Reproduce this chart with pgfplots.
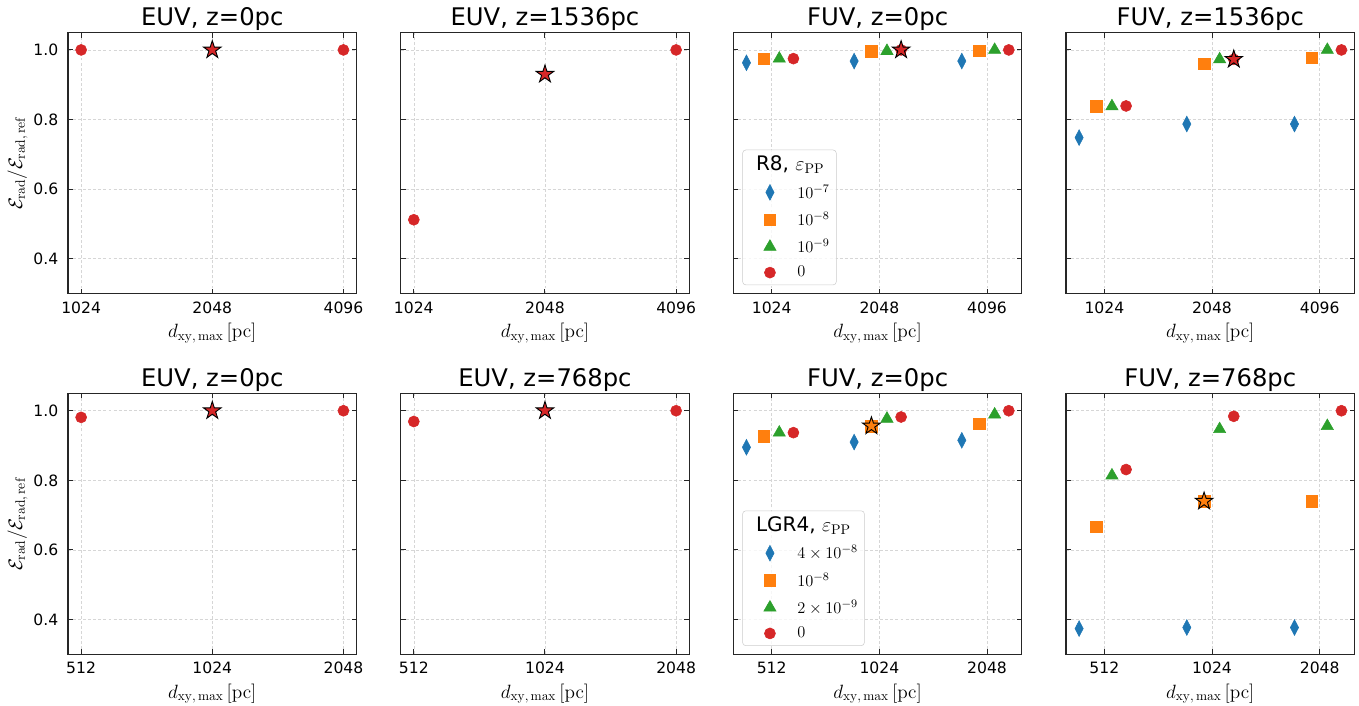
\RequirePackage{fix-cm}
\documentclass[border=0pt]{standalone}
\usepackage[no-math]{fontspec}
\setmainfont{DejaVu Sans}
\usepackage{pgfplots}
\pgfplotsset{compat=1.18}

\definecolor{tabblue}{HTML}{1F77B4}
\definecolor{taborange}{HTML}{FF7F0E}
\definecolor{tabgreen}{HTML}{2CA02C}
\definecolor{tabred}{HTML}{D62728}

\pgfdeclareplotmark{fstar}{%
  \pgfpathmoveto{\pgfpointpolar{90}{\pgfplotmarksize}}%
  \pgfpathlineto{\pgfpointpolar{126}{0.382\pgfplotmarksize}}%
  \pgfpathlineto{\pgfpointpolar{162}{\pgfplotmarksize}}%
  \pgfpathlineto{\pgfpointpolar{198}{0.382\pgfplotmarksize}}%
  \pgfpathlineto{\pgfpointpolar{234}{\pgfplotmarksize}}%
  \pgfpathlineto{\pgfpointpolar{270}{0.382\pgfplotmarksize}}%
  \pgfpathlineto{\pgfpointpolar{306}{\pgfplotmarksize}}%
  \pgfpathlineto{\pgfpointpolar{342}{0.382\pgfplotmarksize}}%
  \pgfpathlineto{\pgfpointpolar{18}{\pgfplotmarksize}}%
  \pgfpathlineto{\pgfpointpolar{54}{0.382\pgfplotmarksize}}%
  \pgfpathclose
  \pgfusepathqfillstroke
}

\pgfplotsset{
  mypanel/.style={
    scale only axis, width=216.4pt, height=195.75pt,
    ymin=0.3, ymax=1.05,
    ytick={0.4,0.6,0.8,1.0},
    yticklabels={},
    minor xtick={}, minor ytick={},
    tick align=inside,
    major tick length=3.75pt,
    tick style={black!85, line width=0.75pt},
    axis line style={black!85, line width=0.9pt},
    grid=major,
    grid style={dash pattern=on 2.2pt off 1.6pt, black!16, line width=0.45pt},
    ticklabel style={font=\fontsize{11.7}{13.5}\selectfont},
    xticklabel style={yshift=-2.5pt},
    yticklabel style={xshift=-3.75pt},
    every axis title/.style={at={(axis description cs:0.5,1.0255)}, anchor=base, font=\fontsize{18.2}{22}\selectfont},
    every axis x label/.style={at={(axis description cs:0.5,-0.1676)}, anchor=base, font=\fontsize{14.4}{17}\selectfont},
    every axis y label/.style={at={(axis description cs:-0.1594,0.5)}, rotate=90, anchor=base, font=\fontsize{14.6}{17}\selectfont},
    xlabel={$d_{\mathrm{xy,\,max}}\,[\mathrm{pc}]$},
    clip=false,
  },
  myleftpanel/.style={
    yticklabels={0.4,0.6,0.8,1.0},
    ylabel={$\mathcal{E}_{\mathrm{rad}}/\mathcal{E}_{\mathrm{rad,\,ref}}$},
  },
  mytoprow/.style={xtick={1024,2048,4096}, xticklabels={1024,2048,4096}},
  mybotrow/.style={xtick={512,1024,2048}, xticklabels={512,1024,2048}},
  sdia/.style={only marks, mark=diamond*, mark size=5.9pt, color=tabblue, mark options={xscale=0.7, fill=tabblue, draw=tabblue, line width=0.4pt}},
  ssq/.style={only marks, mark=square*, mark size=4.3pt, color=taborange, mark options={fill=taborange, draw=taborange, line width=0.4pt}},
  stri/.style={only marks, mark=triangle*, mark size=5.3pt, color=tabgreen, mark options={fill=tabgreen, draw=tabgreen, line width=0.4pt}},
  scirc/.style={only marks, mark=*, mark size=4.15pt, color=tabred, mark options={fill=tabred, draw=tabred, line width=0.4pt}},
  sstar/.style={only marks, mark=fstar, mark size=6.9pt, mark options={fill=#1, draw=black, line width=0.7pt}},
  myleg/.style={
    legend style={at={(axis description cs:0.031,0.032)}, anchor=south west,
      draw=black!20, rounded corners=2.5pt, fill=white, fill opacity=0.8, text opacity=1,
      font=\fontsize{12.3}{14}\selectfont, row sep=4.9pt, inner ysep=2.5pt,
      /tikz/every odd column/.append style={column sep=14pt}},
    legend cell align=left,
    legend image post style={sharp corners, fill opacity=1, draw opacity=1, xshift=9pt},
  },
}

\begin{document}
\begin{tikzpicture}
\useasboundingbox (0,0) rectangle (1019.25pt,-529.5pt);

% ---------- top row ----------
\begin{axis}[xmode=log, log basis x=2, mypanel, myleftpanel, mytoprow, at={(51pt,-24.4pt)}, anchor=north west,
  xmin=955.4, xmax=4389.9, title={EUV, z=0pc}]
\addplot[scirc] coordinates {(1024,1.000) (4096,1.000)};
\addplot[sstar=tabred] coordinates {(2048,1.000)};
\end{axis}

\begin{axis}[xmode=log, log basis x=2, mypanel, mytoprow, at={(300.5pt,-24.4pt)}, anchor=north west,
  xmin=955.4, xmax=4389.9, title={EUV, z=1536pc}]
\addplot[scirc] coordinates {(1024,0.512) (4096,1.000)};
\addplot[sstar=tabred] coordinates {(2048,0.930)};
\end{axis}

\begin{axis}[xmode=log, log basis x=2, mypanel, mytoprow, myleg, at={(550pt,-24.4pt)}, anchor=north west,
  xmin=800, xmax=5125, title={FUV, z=0pc}]
\addlegendimage{empty legend}
\addlegendentry{\hspace{-31pt}\fontsize{15}{17}\selectfont R8, $\varepsilon_{\mathrm{PP}}$}
\addplot[sdia] coordinates {(870.4,0.963) (1740.8,0.968) (3481.6,0.968)};
\addlegendentry{$10^{-7}$}
\addplot[ssq] coordinates {(972.8,0.975) (1945.6,0.996) (3891.2,0.997)};
\addlegendentry{$10^{-8}$}
\addplot[stri] coordinates {(1075.2,0.975) (2150.4,0.997) (4300.8,1.000)};
\addlegendentry{$10^{-9}$}
\addplot[scirc] coordinates {(1177.6,0.975) (2355.2,1.000) (4710.4,1.000)};
\addlegendentry{$0$}
\addplot[sstar=tabred, forget plot] coordinates {(2355.2,1.000)};
\end{axis}

\begin{axis}[xmode=log, log basis x=2, mypanel, mytoprow, at={(799.5pt,-24.4pt)}, anchor=north west,
  xmin=800, xmax=5125, title={FUV, z=1536pc}]
\addplot[sdia] coordinates {(870.4,0.748) (1740.8,0.787) (3481.6,0.787)};
\addplot[ssq] coordinates {(972.8,0.838) (1945.6,0.960) (3891.2,0.978)};
\addplot[stri] coordinates {(1075.2,0.838) (2150.4,0.973) (4300.8,1.000)};
\addplot[scirc] coordinates {(1177.6,0.839) (2355.2,0.973) (4710.4,1.000)};
\addplot[sstar=tabred] coordinates {(2355.2,0.973)};
\end{axis}

% ---------- bottom row ----------
\begin{axis}[xmode=log, log basis x=2, mypanel, myleftpanel, mybotrow, at={(51pt,-295pt)}, anchor=north west,
  xmin=477.7, xmax=2194.9, title={EUV, z=0pc}]
\addplot[scirc] coordinates {(512,0.981) (2048,1.000)};
\addplot[sstar=tabred] coordinates {(1024,1.000)};
\end{axis}

\begin{axis}[xmode=log, log basis x=2, mypanel, mybotrow, at={(300.5pt,-295pt)}, anchor=north west,
  xmin=477.7, xmax=2194.9, title={EUV, z=768pc}]
\addplot[scirc] coordinates {(512,0.969) (2048,1.000)};
\addplot[sstar=tabred] coordinates {(1024,1.000)};
\end{axis}

\begin{axis}[xmode=log, log basis x=2, mypanel, mybotrow, myleg, at={(550pt,-295pt)}, anchor=north west,
  xmin=400, xmax=2562.5, title={FUV, z=0pc}]
\addlegendimage{empty legend}
\addlegendentry{\hspace{-31pt}\fontsize{15}{17}\selectfont LGR4, $\varepsilon_{\mathrm{PP}}$}
\addplot[sdia] coordinates {(435.2,0.895) (870.4,0.910) (1740.8,0.915)};
\addlegendentry{$4\times10^{-8}$}
\addplot[ssq] coordinates {(486.4,0.927) (972.8,0.956) (1945.6,0.962)};
\addlegendentry{$10^{-8}$}
\addplot[stri] coordinates {(537.6,0.937) (1075.2,0.977) (2150.4,0.989)};
\addlegendentry{$2\times10^{-9}$}
\addplot[scirc] coordinates {(588.8,0.937) (1177.6,0.982) (2355.2,1.000)};
\addlegendentry{$0$}
\addplot[sstar=taborange, forget plot] coordinates {(972.8,0.956)};
\end{axis}

\begin{axis}[xmode=log, log basis x=2, mypanel, mybotrow, at={(799.5pt,-295pt)}, anchor=north west,
  xmin=400, xmax=2562.5, title={FUV, z=768pc}]
\addplot[sdia] coordinates {(435.2,0.374) (870.4,0.377) (1740.8,0.377)};
\addplot[ssq] coordinates {(486.4,0.666) (972.8,0.740) (1945.6,0.740)};
\addplot[stri] coordinates {(537.6,0.814) (1075.2,0.947) (2150.4,0.956)};
\addplot[scirc] coordinates {(588.8,0.831) (1177.6,0.984) (2355.2,1.000)};
\addplot[sstar=taborange] coordinates {(972.8,0.740)};
\end{axis}
\end{tikzpicture}
\end{document}
